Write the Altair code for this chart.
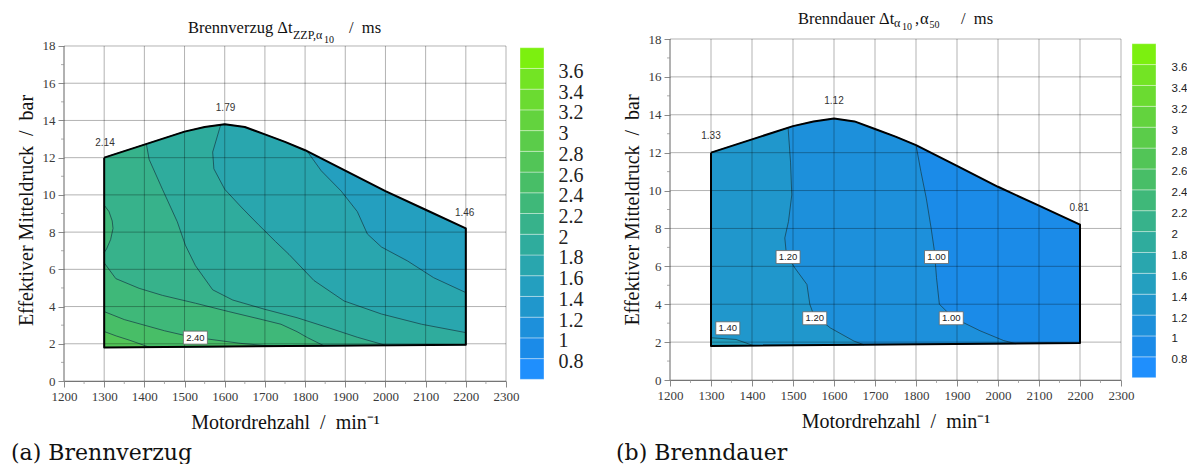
import altair as alt
import pandas as pd

# ---------------- values ----------------
# axis ticks
X_TICKS = [1200, 1300, 1400, 1500, 1600, 1700, 1800, 1900, 2000, 2100, 2200, 2300]
X_MINOR = [1250, 1350, 1450, 1550, 1650, 1750, 1850, 1950, 2050, 2150, 2250]
Y_TICKS = [0, 2, 4, 6, 8, 10, 12, 14, 16, 18]
Y_MINOR = [1, 3, 5, 7, 9, 11, 13, 15, 17]

# operating range boundary (same for both maps): rpm / bar
ENV_TOP_RPM = [1300, 1400, 1450, 1500, 1550, 1600, 1650, 1700, 1750, 1800, 1900, 2000, 2100, 2200]
ENV_TOP_P = [12.0, 12.7, 13.05, 13.4, 13.65, 13.8, 13.65, 13.25, 12.85, 12.4, 11.3, 10.2, 9.2, 8.2]
ENV_BOT_RPM = [2200, 1300]
ENV_BOT_P = [1.95, 1.8]

# colour bar bins (ms)
CB_LO = [0.6, 0.8, 1.0, 1.2, 1.4, 1.6, 1.8, 2.0, 2.2, 2.4, 2.6, 2.8, 3.0, 3.2, 3.4, 3.6]
CB_HI = [0.8, 1.0, 1.2, 1.4, 1.6, 1.8, 2.0, 2.2, 2.4, 2.6, 2.8, 3.0, 3.2, 3.4, 3.6, 3.8]
CB_TICKS = [0.8, 1.0, 1.2, 1.4, 1.6, 1.8, 2.0, 2.2, 2.4, 2.6, 2.8, 3.0, 3.2, 3.4, 3.6]

# (a) Brennverzug: iso lines (rpm, bar)
A16_RPM = [1805, 1840, 1890, 1930, 1955, 1990, 2055, 2120, 2200]
A16_P = [12.35, 11.3, 10.2, 9.1, 7.9, 7.2, 6.45, 5.55, 4.75]
A18_RPM = [1590, 1570, 1573, 1600, 1643, 1684, 1726, 1760, 1822, 1897, 1990, 2090, 2200]
A18_P = [13.77, 12.3, 11.4, 10.3, 9.3, 8.4, 7.5, 6.8, 5.4, 4.3, 3.6, 3.05, 2.6]
A20_RPM = [1405, 1412, 1445, 1482, 1502, 1527, 1570, 1620, 1700, 1780, 1860, 1930, 2000]
A20_P = [12.73, 11.9, 10.3, 8.55, 7.3, 6.2, 4.9, 4.35, 3.85, 3.4, 2.85, 2.35, 1.92]
A22_RPM = [1300, 1329, 1387, 1445, 1527, 1610, 1693, 1740, 1780, 1806, 1847]
A22_P = [6.35, 5.5, 4.98, 4.6, 4.18, 3.73, 3.3, 3.05, 2.65, 2.33, 1.89]
A22I_RPM = [1300, 1312, 1320, 1322, 1316, 1306, 1300]
A22I_P = [9.45, 9.1, 8.6, 8.2, 7.6, 7.1, 6.9]
A24_RPM = [1300, 1350, 1400, 1450, 1500, 1560, 1640, 1720]
A24_P = [3.73, 3.3, 3.0, 2.7, 2.45, 2.25, 2.02, 1.87]
A26_RPM = [1300, 1330, 1362, 1412]
A26_P = [2.66, 2.42, 2.2, 1.82]
A_CORNER_RPM = [1302, 1602, 2197]
A_CORNER_P = [12.8, 14.68, 9.05]
A_CORNER_TXT = ["2.14", "1.79", "1.46"]
A_BOX_RPM = [1527]
A_BOX_P = [2.33]
A_BOX_TXT = ["2.40"]

# (b) Brenndauer: iso lines (rpm, bar)
B10_RPM = [1800, 1812, 1825, 1837, 1845, 1850, 1857, 1890, 1956, 2014, 2043]
B10_P = [12.4, 11.0, 9.6, 8.0, 6.8, 5.4, 4.0, 3.3, 2.6, 2.08, 1.92]
B12_RPM = [1488, 1494, 1497, 1489, 1480, 1484, 1505, 1534, 1541, 1550, 1591, 1649, 1673]
B12_P = [13.32, 11.5, 9.77, 8.37, 7.5, 6.6, 5.9, 5.04, 4.0, 3.46, 2.75, 2.05, 1.86]
B14_RPM = [1300, 1361, 1403]
B14_P = [2.23, 2.14, 1.82]
B_CORNER_RPM = [1300, 1600, 2198]
B_CORNER_P = [12.88, 14.71, 9.08]
B_CORNER_TXT = ["1.33", "1.12", "0.81"]
B_BOX_RPM = [1488, 1553, 1850, 1886, 1341]
B_BOX_P = [6.49, 3.26, 6.49, 3.26, 2.73]
B_BOX_TXT = ["1.20", "1.20", "1.00", "1.00", "1.40"]

# ---------------- styles ----------------
PALETTE = ["#1f8ffd", "#1b8be8", "#1d90db", "#2097cc", "#249fbf", "#29a6ae", "#2fac9d",
           "#37b28b", "#3fb879", "#48be67", "#52c557", "#5bcc4a", "#63d33e", "#6bdb31",
           "#73e424", "#7cf00f"]
SERIF = "Liberation Serif"
SANS = "Liberation Sans"
CAPF = "DejaVu Serif"
ISO_COLOR = "#163c4a"
AXIS_GRAY = "#8a8a8a"
NB = "\u00a0"


def df(r, p):
    return pd.DataFrame({"rpm": list(r), "p": list(p), "i": list(range(len(r)))})


def band_color(level):
    return PALETTE[CB_LO.index(level)]


def region(c_rpm, c_p, top_before=None, right_edge=False):
    r, p = [], []
    if top_before is not None:
        for a, b in zip(ENV_TOP_RPM, ENV_TOP_P):
            if a < top_before:
                r.append(a)
                p.append(b)
    r += list(c_rpm)
    p += list(c_p)
    if right_edge:
        r.append(ENV_BOT_RPM[0])
        p.append(ENV_BOT_P[0])
    r.append(ENV_BOT_RPM[1])
    p.append(ENV_BOT_P[1])
    return r, p


def text_piece(txt, x, y, size, font=SERIF, color="#111"):
    return alt.Chart(pd.DataFrame({"t": [txt]})).mark_text(
        align="left", baseline="alphabetic", font=font, fontSize=size, color=color
    ).encode(x=alt.value(x), y=alt.value(y), text="t:N")


def white_rule(x, x2, y, y2):
    return alt.Chart(pd.DataFrame({"d": [0]})).mark_rule(color="#ffffff", strokeWidth=0.1).encode(
        x=alt.value(x), x2=alt.value(x2), y=alt.value(y), y2=alt.value(y2))


def panel(s):
    W, H = s["W"], s["H"]
    xs = alt.Scale(domain=[1200, 2300], nice=False, zero=False)
    ys = alt.Scale(domain=[0, s["ytop"]], nice=False, zero=False)
    common = dict(grid=False, format="d", domainColor=AXIS_GRAY, tickColor=AXIS_GRAY, tickSize=6,
                  labelPadding=3, labelFont=SERIF, labelFontSize=13, labelColor="#3a3a3a",
                  labelOverlap=False, labelFlush=False, titleFont=SERIF, titleFontSize=20,
                  titleFontWeight="normal", titleColor="#111")
    x_axis = alt.Axis(values=X_TICKS, title=f"Motordrehzahl{NB}{NB}/{NB}{NB}min\u207b\u00b9",
                      titlePadding=9, **common)
    y_axis = alt.Axis(values=Y_TICKS, title=f"Effektiver Mitteldruck{NB}{NB}/{NB}{NB}bar",
                      titlePadding=6, domain=False, **common)

    def X(field="rpm"):
        return alt.X(f"{field}:Q", scale=xs, axis=x_axis)

    def Y(field="p"):
        return alt.Y(f"{field}:Q", scale=ys, axis=y_axis)

    env_r = ENV_TOP_RPM + ENV_BOT_RPM
    env_p = ENV_TOP_P + ENV_BOT_P
    base_c = band_color(s["base"])
    layers = [alt.Chart(df(env_r, env_p)).mark_line(fill=base_c, stroke=base_c, strokeWidth=0.5).encode(
        x=X(), y=Y(), order="i:Q")]
    for r, p, lvl in s["fills"]:
        c = band_color(lvl)
        layers.append(alt.Chart(df(r, p)).mark_line(fill=c, stroke=c, strokeWidth=0.5).encode(
            x=X(), y=Y(), order="i:Q"))
    for r, p in s["isos"]:
        layers.append(alt.Chart(df(r, p)).mark_line(color=ISO_COLOR, strokeWidth=0.9, opacity=0.8).encode(
            x=X(), y=Y(), order="i:Q"))
    # grid lines over the map
    gx = pd.DataFrame({"rpm": X_TICKS, "p0": [0] * len(X_TICKS), "p1": [18] * len(X_TICKS)})
    layers.append(alt.Chart(gx).mark_rule(color="#000000", opacity=0.3, strokeWidth=1).encode(
        x=X(), y=Y("p0"), y2="p1:Q"))
    gy = pd.DataFrame({"p": Y_TICKS, "r0": [1200] * len(Y_TICKS), "r1": [2300] * len(Y_TICKS)})
    layers.append(alt.Chart(gy).mark_rule(color="#000000", opacity=0.3, strokeWidth=1).encode(
        y=Y(), x=X("r0"), x2="r1:Q"))
    layers.append(alt.Chart(gx.head(1)).mark_rule(color=AXIS_GRAY, strokeWidth=1).encode(
        x=X(), y=Y("p0"), y2="p1:Q"))
    # boundary of the operating range
    layers.append(alt.Chart(df(env_r + env_r[:1], env_p + env_p[:1])).mark_line(
        color="#000000", strokeWidth=2, strokeJoin="round").encode(x=X(), y=Y(), order="i:Q"))
    # minor ticks
    layers.append(alt.Chart(pd.DataFrame({"rpm": X_MINOR})).mark_tick(
        orient="vertical", size=3, thickness=1, color=AXIS_GRAY).encode(
        x=X(), y=alt.value(H + 1.5)))
    layers.append(alt.Chart(pd.DataFrame({"p": Y_MINOR})).mark_tick(
        orient="horizontal", size=3, thickness=1, color=AXIS_GRAY).encode(
        y=Y(), x=alt.value(-1.5)))
    # corner values
    cr, cp, ct = s["corner"]
    layers.append(alt.Chart(pd.DataFrame({"rpm": cr, "p": cp, "t": ct})).mark_text(
        font=SANS, fontSize=10, color="#333333").encode(x=X(), y=Y(), text="t:N"))
    # boxed iso labels
    br, bp, bt = s["boxes"]
    bdf = pd.DataFrame({"rpm": br, "p": bp, "t": bt})
    layers.append(alt.Chart(bdf).mark_point(
        shape="M-1,-0.54L1,-0.54L1,0.54L-1,0.54Z", size=576, filled=True, fill="#ffffff",
        stroke="#666666", strokeWidth=0.8, opacity=1).encode(x=X(), y=Y()))
    layers.append(alt.Chart(bdf).mark_text(font=SANS, fontSize=9.5, color="#222222").encode(
        x=X(), y=Y(), text="t:N"))
    # title pieces (with subscripts) and caption
    for txt, x, y, size in s["title"]:
        layers.append(text_piece(txt, x, y, size))
    layers.append(text_piece(s["caption"][0], s["caption"][1], s["caption"][2], 22, font=CAPF, color="#111"))
    # layout guides (white, invisible)
    for g in s["guides"]:
        layers.append(white_rule(*g))

    inner = alt.layer(*layers)

    keys = [f"{v:.1f}" for v in CB_LO]
    cb = alt.Chart(pd.DataFrame({"lo": CB_LO, "hi": CB_HI, "k": keys})).mark_rect(
        stroke="#ffffff", strokeWidth=0.8, strokeOpacity=0.45).encode(
        x=alt.value(s["cbx"][0]), x2=alt.value(s["cbx"][1]),
        y=alt.Y("lo:Q", scale=alt.Scale(domain=s["cbdom"], nice=False, zero=False),
                axis=alt.Axis(orient="right", values=CB_TICKS, format="~g", grid=False, ticks=False,
                              tickSize=0, domain=False, offset=s["cboff"], labelPadding=s["cbpad"],
                              labelFont=s["cbfont"], labelFontSize=s["cbsize"], labelColor="#222222",
                              labelBaseline="middle", labelOffset=3, labelOverlap=False, title=None)),
        y2="hi:Q",
        color=alt.Color("k:N", scale=alt.Scale(domain=keys, range=PALETTE), legend=None))

    return alt.layer(inner, cb).resolve_scale(y="independent").properties(width=W, height=H)


left_spec = dict(
    W=442, H=342, ytop=18.376, base=1.4,
    fills=[
        region(A16_RPM, A16_P, top_before=1805, right_edge=True) + (1.6,),
        region(A18_RPM, A18_P, top_before=1590, right_edge=True) + (1.8,),
        region(A20_RPM, A20_P, top_before=1405) + (2.0,),
        region(A22_RPM, A22_P) + (2.2,),
        (A22I_RPM, A22I_P, 2.2),
        region(A24_RPM, A24_P) + (2.4,),
        region(A26_RPM, A26_P) + (2.6,),
    ],
    isos=[(A16_RPM, A16_P), (A18_RPM, A18_P), (A20_RPM, A20_P), (A22_RPM, A22_P),
          (A22I_RPM, A22I_P), (A24_RPM, A24_P), (A26_RPM, A26_P)],
    corner=(A_CORNER_RPM, A_CORNER_P, A_CORNER_TXT),
    boxes=(A_BOX_RPM, A_BOX_P, A_BOX_TXT),
    title=[("Brennverzug \u0394t", 124, -6, 16.5), ("ZZP,\u03b1", 229, -0.5, 12), ("10", 260, 3.5, 10),
           (f"/{NB}{NB}ms", 285, -6, 16.5)],
    caption=("(a) Brennverzug", -53, 421),
    guides=[(0, 1, -38, -38), (-63, -63, 100, 101), (532, 532, 100, 101)],
    cbx=(456, 480), cbdom=[0.584, 3.884], cboff=38, cbpad=14, cbfont=SERIF, cbsize=20,
)

right_spec = dict(
    W=451, H=341, ytop=18, base=0.8,
    fills=[
        region(B10_RPM, B10_P, top_before=1800) + (1.0,),
        region(B12_RPM, B12_P, top_before=1488) + (1.2,),
        region(B14_RPM, B14_P) + (1.4,),
    ],
    isos=[(B10_RPM, B10_P), (B12_RPM, B12_P), (B14_RPM, B14_P)],
    corner=(B_CORNER_RPM, B_CORNER_P, B_CORNER_TXT),
    boxes=(B_BOX_RPM, B_BOX_P, B_BOX_TXT),
    title=[("Brenndauer \u0394t", 128, -14.7, 16.5), ("\u03b1", 224, -12.5, 12), ("10", 232, -9, 10),
           (",", 245, -14.7, 16.5), ("\u03b1", 250, -14.7, 16.5), ("50", 259.5, -11.3, 10),
           (f"/{NB}{NB}ms", 291, -14.7, 16.5)],
    caption=("(b) Brenndauer", -54, 421),
    guides=[(0, 1, -38, -38), (-72, -72, 100, 101)],
    cbx=(462, 486), cbdom=[0.578, 3.845], cboff=35, cbpad=15, cbfont=SANS, cbsize=11.5,
)

chart = alt.hconcat(panel(left_spec), panel(right_spec), spacing=0).properties(
    padding=0, background="white"
).configure_view(strokeWidth=0)

chart.save("out.html", embed_options={"renderer": "svg", "actions": False})
